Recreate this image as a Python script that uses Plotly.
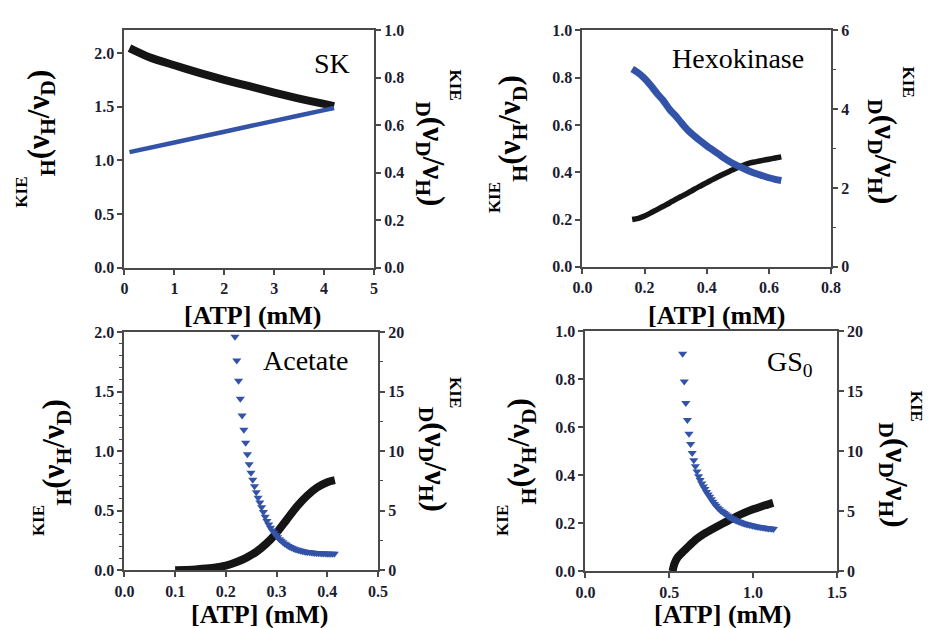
import plotly.graph_objects as go

W, H = 933, 628

# ---------------- data ----------------
# SK panel
sk_black_x = [0.1, 0.5, 1.0, 1.5, 2.0, 2.5, 3.0, 3.5, 4.0, 4.2]
sk_black_y = [2.045, 1.96, 1.885, 1.815, 1.75, 1.69, 1.63, 1.575, 1.525, 1.505]
sk_blue_x = [0.1, 1.0, 2.0, 3.0, 4.0, 4.2]
sk_blue_y = [0.487, 0.528, 0.573, 0.619, 0.664, 0.673]

# Hexokinase panel
hx_x = [0.16, 0.18, 0.20, 0.22, 0.24, 0.26, 0.28, 0.30, 0.32, 0.34, 0.36, 0.38, 0.40,
        0.42, 0.44, 0.46, 0.48, 0.50, 0.52, 0.54, 0.56, 0.58, 0.60, 0.62, 0.64]
hx_black_y = [0.20, 0.205, 0.215, 0.228, 0.242, 0.256, 0.27, 0.285, 0.299, 0.313, 0.328,
              0.342, 0.356, 0.37, 0.383, 0.396, 0.408, 0.42, 0.43, 0.44, 0.445, 0.45,
              0.455, 0.46, 0.465]
hx_blue_y = [5.02, 4.92, 4.78, 4.6, 4.4, 4.22, 4.0, 3.83, 3.64, 3.46, 3.32, 3.19, 3.07,
             2.96, 2.85, 2.74, 2.64, 2.56, 2.49, 2.42, 2.36, 2.31, 2.26, 2.22, 2.19]

# Acetate panel
ac_black_x = [0.10, 0.12, 0.14, 0.16, 0.18, 0.20, 0.22, 0.24, 0.26, 0.28, 0.30, 0.32,
              0.34, 0.36, 0.38, 0.40, 0.415]
ac_black_y = [0.0, 0.003, 0.007, 0.015, 0.025, 0.04, 0.068, 0.105, 0.155, 0.225, 0.315,
              0.425, 0.535, 0.625, 0.695, 0.74, 0.757]
ac_blue_x = [0.218, 0.2215, 0.225, 0.2285, 0.232, 0.2355, 0.239, 0.2425, 0.246, 0.2495,
             0.253, 0.2565, 0.26, 0.2635, 0.267, 0.2705, 0.274, 0.2775, 0.281, 0.2845,
             0.288, 0.2915, 0.295, 0.2985, 0.302, 0.3055, 0.309, 0.3125, 0.316, 0.3195,
             0.323, 0.3265, 0.33, 0.3335, 0.337, 0.3405, 0.344, 0.3475, 0.351, 0.3545,
             0.358, 0.3615, 0.365, 0.3685, 0.372, 0.3755, 0.379, 0.3825, 0.386, 0.3895,
             0.393, 0.3965, 0.40, 0.4035, 0.407, 0.4105, 0.414]
ac_blue_y = [19.6, 17.6, 15.9, 14.4, 13.0, 11.8, 10.7, 9.75, 8.9, 8.2,
             7.6, 7.05, 6.55, 6.1, 5.7, 5.3, 4.9, 4.5, 4.15, 3.85,
             3.58, 3.35, 3.15, 2.96, 2.78, 2.62, 2.48, 2.35, 2.24, 2.14,
             2.05, 1.97, 1.9, 1.84, 1.78, 1.73, 1.69, 1.65, 1.61, 1.58,
             1.55, 1.53, 1.51, 1.49, 1.47, 1.46, 1.45, 1.44, 1.43, 1.42,
             1.41, 1.41, 1.40, 1.40, 1.39, 1.39, 1.39]

# GS0 panel
gs_black_x = [0.52, 0.53, 0.55, 0.58, 0.62, 0.66, 0.70, 0.75, 0.80, 0.85, 0.90, 0.95,
              1.00, 1.05, 1.10, 1.12]
gs_black_y = [0.0, 0.03, 0.058, 0.08, 0.107, 0.133, 0.153, 0.173, 0.192, 0.21, 0.228,
              0.244, 0.258, 0.27, 0.281, 0.285]
gs_blue_x = [0.58, 0.5895, 0.599, 0.6085, 0.618, 0.6275, 0.637, 0.6465, 0.656, 0.6655,
             0.675, 0.6845, 0.694, 0.7035, 0.713, 0.7225, 0.732, 0.7415, 0.751, 0.7605,
             0.77, 0.7795, 0.789, 0.7985, 0.808, 0.8175, 0.827, 0.8365, 0.846, 0.8555,
             0.865, 0.8745, 0.884, 0.8935, 0.903, 0.9125, 0.922, 0.9315, 0.941, 0.9505,
             0.96, 0.9695, 0.979, 0.9885, 0.998, 1.0075, 1.017, 1.0265, 1.036, 1.0455,
             1.055, 1.0645, 1.074, 1.0835, 1.093, 1.1025, 1.112, 1.1215]
gs_blue_y = [18.1, 15.8, 14.0, 12.6, 11.45, 10.6, 9.85, 9.25, 8.75, 8.3,
             7.92, 7.6, 7.3, 7.05, 6.85, 6.6, 6.4, 6.2, 6.0, 5.8,
             5.6, 5.45, 5.3, 5.17, 5.05, 4.95, 4.85, 4.74, 4.64, 4.55,
             4.47, 4.4, 4.33, 4.26, 4.2, 4.15, 4.1, 4.05, 4.0, 3.96,
             3.92, 3.89, 3.86, 3.83, 3.8, 3.77, 3.74, 3.72, 3.69, 3.67,
             3.65, 3.63, 3.61, 3.59, 3.57, 3.56, 3.54, 3.53]

panel_names = ["SK", "Hexokinase", "Acetate", "GS<sub>0</sub>"]
x_label = "[ATP] (mM)"

# ---------------- style ----------------
BLACK = "#151515"
BLUE = "#3353a8"
AXC = "#4a4a4a"
SERIF = "Liberation Serif"
TICKFONT = dict(family=SERIF, size=16, color="#1c1c30", weight="bold")


def px2paper(px, py):
    return px / W, 1 - py / H


def dom(x0, x1, y0, y1):
    return [x0 / W, x1 / W], [1 - y1 / H, 1 - y0 / H]


fig = go.Figure()


def band(x, y, xa, ya, color, width):
    fig.add_trace(go.Scatter(x=x, y=y, mode="lines",
                             line=dict(color=color, width=width, shape="spline",
                                       smoothing=0.8),
                             xaxis=xa, yaxis=ya))


def tri(x, y, xa, ya):
    fig.add_trace(go.Scatter(x=x, y=y, mode="markers",
                             marker=dict(symbol="triangle-down", size=8, color=BLUE,
                                         line=dict(width=0)),
                             xaxis=xa, yaxis=ya))


band(sk_black_x, sk_black_y, "x", "y", BLACK, 8)
band(sk_blue_x, sk_blue_y, "x", "y2", BLUE, 4.5)
band(hx_x, hx_black_y, "x2", "y3", BLACK, 5.5)
band(hx_x, hx_blue_y, "x2", "y4", BLUE, 7)
band(ac_black_x, ac_black_y, "x3", "y5", BLACK, 8)
tri(ac_blue_x, ac_blue_y, "x3", "y6")
band(gs_black_x, gs_black_y, "x4", "y7", BLACK, 8)
tri(gs_blue_x, gs_blue_y, "x4", "y8")


def xax(domain, anchor, rng, dtick, fmt):
    return dict(domain=domain, anchor=anchor, range=rng, dtick=dtick, tick0=0,
                tickformat=fmt, showline=True, linecolor=AXC, linewidth=2,
                mirror=True, ticks="outside", ticklen=5, tickwidth=1.5,
                tickcolor=AXC, showgrid=False, zeroline=False, tickfont=TICKFONT,
                ticklabelstandoff=0)


def yax(domain, anchor, rng, dtick, fmt, side="left", overlay=None, minor=None):
    d = dict(domain=domain, anchor=anchor, range=rng, dtick=dtick, tick0=0,
             tickformat=fmt, showline=True, linecolor=AXC, linewidth=2,
             ticks="outside", ticklen=5, tickwidth=1.5, tickcolor=AXC,
             showgrid=False, zeroline=False, tickfont=TICKFONT, side=side,
             ticklabelstandoff=0)
    if overlay:
        d["overlaying"] = overlay
    if minor is not None:
        d["minor"] = dict(dtick=minor, ticks="outside", ticklen=3, tickwidth=1.2,
                          tickcolor=AXC, showgrid=False)
    return d


dx1, dy1 = dom(117, 372, 23, 267)
dx2, dy2 = dom(585, 839, 23, 266)
dx3, dy3 = dom(117, 376, 333, 578)
dx4, dy4 = dom(588, 845, 332, 579)

layout = dict(
    width=W, height=H, margin=dict(l=0, r=0, t=0, b=0),
    paper_bgcolor="white", plot_bgcolor="white", showlegend=False,
    xaxis=xax(dx1, "y", [0, 5], 1, "d"),
    yaxis=yax(dy1, "x", [0, 2.21], 0.5, ".1f"),
    yaxis2=yax(dy1, "x", [0, 1], 0.2, ".1f", side="right", overlay="y"),
    xaxis2=xax(dx2, "y3", [0, 0.8], 0.2, ".1f"),
    yaxis3=yax(dy2, "x2", [0, 1], 0.2, ".1f"),
    yaxis4=yax(dy2, "x2", [0, 6], 2, "d", side="right", overlay="y3", minor=1),
    xaxis3=xax(dx3, "y5", [0, 0.5], 0.1, ".1f"),
    yaxis5=yax(dy3, "x3", [0, 2], 0.5, ".1f", minor=0.1),
    yaxis6=yax(dy3, "x3", [0, 20], 5, "d", side="right", overlay="y5", minor=2.5),
    xaxis4=xax(dx4, "y7", [0, 1.5], 0.5, ".1f"),
    yaxis7=yax(dy4, "x4", [0, 1], 0.2, ".1f"),
    yaxis8=yax(dy4, "x4", [0, 20], 5, "d", side="right", overlay="y7"),
)
fig.update_layout(**layout)

annotations = []


def ann(text, px, py, size, angle=0, bold=True):
    x, y = px2paper(px, py)
    annotations.append(dict(
        text=text, x=x, y=y, xref="paper", yref="paper", showarrow=False,
        xanchor="center", yanchor="middle", textangle=angle, borderpad=0,
        font=dict(family=SERIF, size=size, color="black",
                  weight="bold" if bold else "normal")))


left_big = "<sub>H</sub>(ν<sub>H</sub>/ν<sub>D</sub>)"
right_big = "<sub>D</sub>(ν<sub>D</sub>/ν<sub>H</sub>)"

panel_geo = [
    dict(kl=(12, 189), bl=(31, 118), br=(430, 150), kr=(455, 79), xl=(248, 316), nm=(329, 57)),
    dict(kl=(495, 195), bl=(513, 124), br=(892, 148), kr=(918, 76), xl=(722, 316), nm=(744, 52)),
    dict(kl=(29, 527), bl=(47, 457), br=(432, 464), kr=(455, 395), xl=(255, 623), nm=(302, 362)),
    dict(kl=(504, 527), bl=(522, 456), br=(903, 480), kr=(926, 409), xl=(728, 623), nm=(797, 365)),
]

for name, g in zip(panel_names, panel_geo):
    ann("KIE", *g["kl"], 17, angle=-90)
    ann(left_big, *g["bl"], 31, angle=-90)
    ann(right_big, *g["br"], 31, angle=90)
    ann("KIE", *g["kr"], 17, angle=90)
    ann(x_label, *g["xl"], 26)
    ann(name, *g["nm"], 28, bold=False)

fig.update_layout(annotations=annotations)

fig.write_html("out.html")
